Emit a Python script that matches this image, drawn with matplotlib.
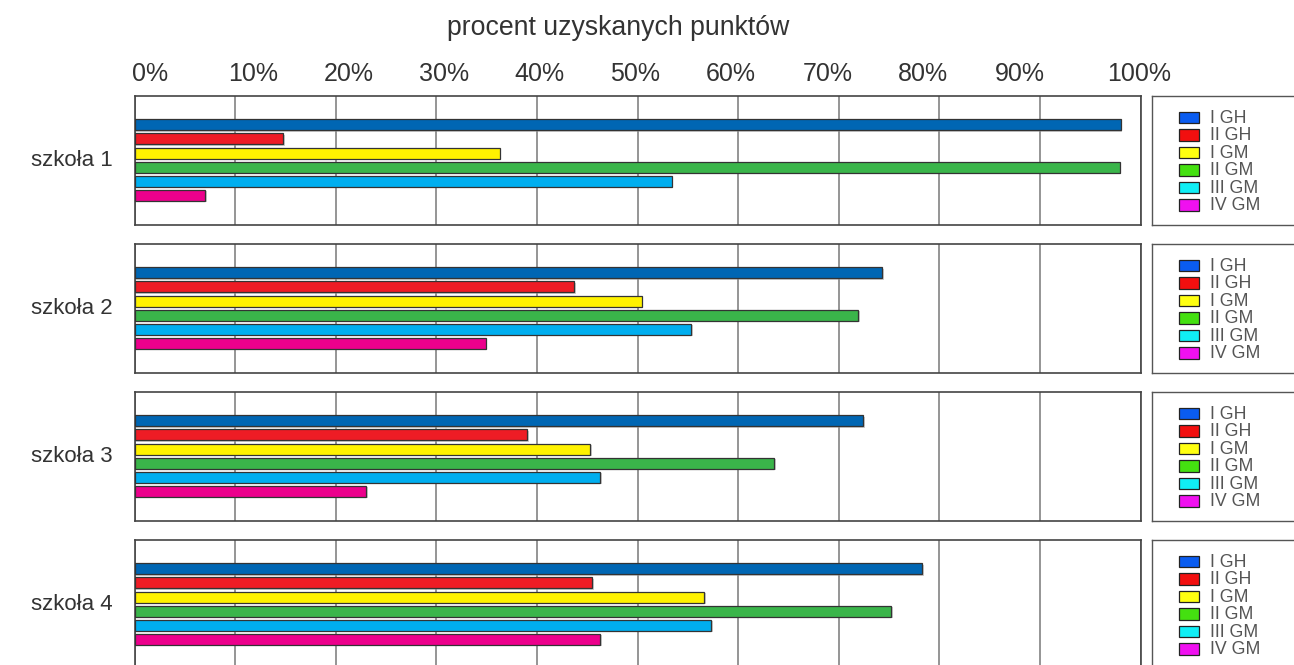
import numpy as np
import matplotlib
matplotlib.use("Agg")
import matplotlib.pyplot as plt
from matplotlib.patches import Rectangle
import matplotlib.patheffects as pe

plt.rcParams['font.family'] = ['Liberation Sans', 'DejaVu Sans']

# ---- data ----
schools = ["szkoła 1", "szkoła 2", "szkoła 3", "szkoła 4"]
groups = ["I GH", "II GH", "I GM", "II GM", "III GM", "IV GM"]
scores = {
    "szkoła 1": [98.0, 14.8, 36.3, 97.9, 53.4, 7.0],
    "szkoła 2": [74.3, 43.7, 50.4, 71.9, 55.3, 34.9],
    "szkoła 3": [72.4, 39.0, 45.3, 63.6, 46.3, 23.0],
    "szkoła 4": [78.3, 45.5, 56.6, 75.2, 57.3, 46.3],
}
bar_colors = ["#0066b3", "#ee1c25", "#fff200", "#3ab54a", "#00aeef", "#ec008c"]
legend_colors = ["#0a5cf0", "#f20f0f", "#ffff10", "#44e010", "#10eef5", "#f010f0"]
tick_values = list(range(0, 101, 10))
tick_labels = [f"{v}%" for v in tick_values]
# where each percentage label sits along the top scale
tick_label_pos = [1.5, 11.8, 21.3, 30.8, 40.2, 49.7, 59.3, 68.9, 78.4, 88.0, 99.8]
title = "procent uzyskanych punktów"

# ---- layout (pixel-based helpers) ----
W, H = 1294, 665
fig = plt.figure(figsize=(W / 100, H / 100), dpi=100)
fig.patch.set_facecolor("white")


def rect(x0, y0, x1, y1):
    return [x0 / W, 1 - y1 / H, (x1 - x0) / W, (y1 - y0) / H]


panel_left, panel_right = 134.5, 1140.7
panel_h = 129.0
panel_step = 148.0
panel_top0 = 95.5
legend_left, legend_right = 1151.7, 1312.0

text_color = "#333333"
edge_col = "#444444"
grid_col = "#8c8c8c"

y = np.arange(len(groups))
shadow = [pe.SimplePatchShadow(offset=(1.2, -1.2), shadow_rgbFace="#9a9a9a", alpha=0.5), pe.Normal()]

for k, school in enumerate(schools):
    top = panel_top0 + k * panel_step
    ax = fig.add_axes(rect(panel_left, top, panel_right, top + panel_h))
    bars = ax.barh(y, scores[school], height=0.78, color=bar_colors,
                   edgecolor="#333333", linewidth=0.9, zorder=3)
    for b in bars:
        b.set_path_effects(shadow)
    ax.set_xlim(0, 100)
    ax.set_ylim(7.07, -2.08)
    ax.set_xticks(tick_values)
    ax.set_yticks([])
    ax.tick_params(axis="x", length=0, labelbottom=False)
    ax.grid(axis="x", color=grid_col, linewidth=1.3, zorder=0)
    ax.set_axisbelow(True)
    for s in ax.spines.values():
        s.set_color(edge_col)
        s.set_linewidth(1.2)
    ax.text(-0.022, 0.5, school, transform=ax.transAxes, ha="right", va="center",
            fontsize=16, color=text_color)

    if k == 0:
        top_ax = ax.twiny()
        top_ax.set_xlim(0, 100)
        top_ax.set_xticks(tick_label_pos)
        top_ax.set_xticklabels(tick_labels, fontsize=18, color=text_color)
        top_ax.tick_params(axis="x", length=0, pad=7)
        for s in top_ax.spines.values():
            s.set_visible(False)
        top_ax.set_title(title, fontsize=19.2, color=text_color, pad=19, x=0.4805)

    # legend box beside each panel
    lax = fig.add_axes(rect(legend_left, top, legend_right, top + panel_h))
    lax.set_xlim(0, legend_right - legend_left)
    lax.set_ylim(panel_h, 0)
    lax.set_xticks([])
    lax.set_yticks([])
    for s in lax.spines.values():
        s.set_color("#555555")
        s.set_linewidth(1.0)
    for i, (g, c) in enumerate(zip(groups, legend_colors)):
        ry = 16.0 + 17.5 * i
        lax.add_patch(Rectangle((27.6, ry), 20, 11.7, facecolor=c,
                                edgecolor="#222222", linewidth=0.9))
        lax.text(58.5, ry + 6.6, g, ha="left", va="center", fontsize=12.8,
                 color="#555555")

fig.savefig("out.png", dpi=100, facecolor="white")
